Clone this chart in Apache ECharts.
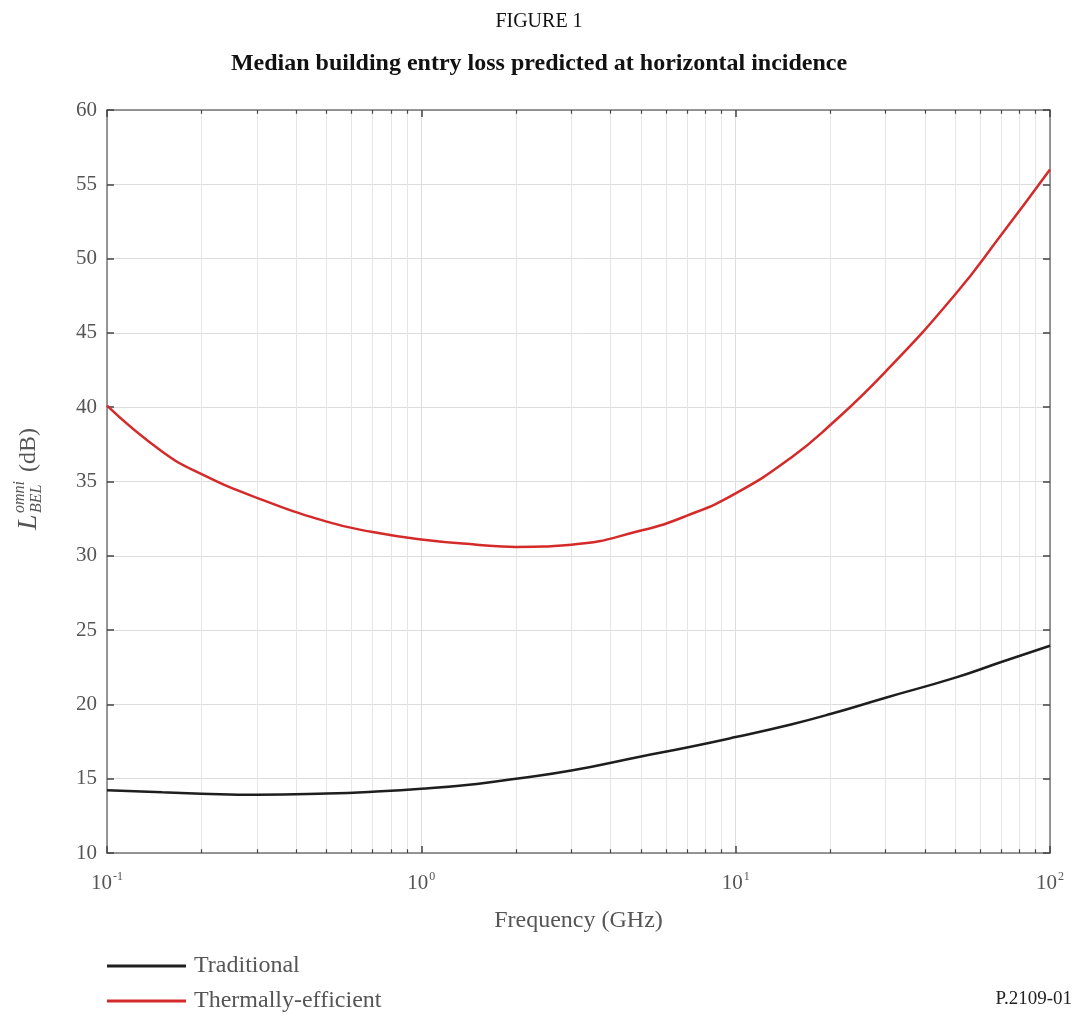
<!DOCTYPE html>
<html>
<head>
<meta charset="utf-8">
<script src="https://cdn.jsdelivr.net/npm/echarts@6/dist/echarts.min.js"></script>
<style>
  html, body { margin: 0; padding: 0; background: #fff; }
  #cn { width: 1078px; height: 1017px; }
</style>
</head>
<body>
<div id="cn"></div>
<script>
'use strict';

// frequency (GHz)
const arrFreq = [0.1, 0.15, 0.2, 0.3, 0.5, 0.7, 1, 1.5, 2, 3, 5, 7, 10, 15, 20, 30, 50, 70, 100];
const arrTraditional = [14.23, 14.08, 13.99, 13.92, 14.0, 14.12, 14.32, 14.65, 15.0, 15.55, 16.5, 17.1, 17.8, 18.65, 19.35, 20.45, 21.8, 22.85, 23.95];
const arrThermal = [40.1, 37.0, 35.5, 33.9, 32.3, 31.6, 31.1, 30.75, 30.6, 30.75, 31.7, 32.7, 34.2, 36.6, 38.8, 42.4, 47.6, 51.6, 56.0];

const arrMinor = [0.2, 0.3, 0.4, 0.5, 0.6, 0.7, 0.8, 0.9, 2, 3, 4, 5, 6, 7, 8, 9, 20, 30, 40, 50, 60, 70, 80, 90];
const seriesNames = ['Traditional', 'Thermally-efficient'];

const FONT = '"Liberation Serif", "DejaVu Serif", serif';
const GRAY = '#555';

const chart = echarts.init(document.getElementById('cn'));

function _zip(a, b) {
    return a.map((v, i) => [v, b[i]]);
}

// minor log grid lines + little tick marks top/bottom
const minorGrid = arrMinor.map(f => [{ coord: [f, 10] }, { coord: [f, 60] }]);
const minorTicks = [];
arrMinor.forEach(f => {
    minorTicks.push([{ coord: [f, 10] }, { coord: [f, 10.25] }]);
    minorTicks.push([{ coord: [f, 60] }, { coord: [f, 59.75] }]);
});

const xLabel = v => {
    const e = Math.round(Math.log10(v));
    return '{b|10}{s|' + e + '}';
};

const boxAxis = {
    axisLine: { show: true, lineStyle: { color: '#777', width: 1.5 } },
    axisTick: { show: true, inside: true, length: 7, lineStyle: { color: '#444', width: 1.5 } }
};

let option = {
    animation: false,
    backgroundColor: '#fff',
    title: [
        {
            text: 'FIGURE 1',
            left: 'center',
            top: 7,
            textStyle: { fontFamily: FONT, fontSize: 20, fontWeight: 'normal', color: '#111' }
        },
        {
            text: 'Median building entry loss predicted at horizontal incidence',
            left: 'center',
            top: 47,
            textStyle: { fontFamily: FONT, fontSize: 24, fontWeight: 'bold', color: '#111' }
        }
    ],
    grid: { left: 107, right: 28, top: 110, bottom: 164, show: false },
    legend: {
        orient: 'vertical',
        left: 107,
        top: 954,
        padding: 0,
        itemWidth: 79,
        itemHeight: 3,
        itemGap: 11,
        icon: 'rect',
        data: seriesNames,
        textStyle: { fontFamily: FONT, fontSize: 24, color: GRAY, padding: [0, 0, 0, 3] }
    },
    xAxis: [
        Object.assign({}, boxAxis, {
            type: 'log',
            logBase: 10,
            min: 0.1,
            max: 100,
            name: 'Frequency (GHz)',
            nameLocation: 'middle',
            nameGap: 56,
            nameTextStyle: { fontFamily: FONT, fontSize: 24, color: GRAY },
            axisLabel: {
                margin: 18,
                formatter: xLabel,
                rich: {
                    b: { fontFamily: FONT, fontSize: 21, color: GRAY },
                    s: { fontFamily: FONT, fontSize: 12, color: GRAY, verticalAlign: 'top', padding: [0, 0, 12, 1] }
                }
            },
            splitLine: { show: true, lineStyle: { color: '#ddd', width: 1 } }
        }),
        Object.assign({}, boxAxis, {
            type: 'log',
            logBase: 10,
            min: 0.1,
            max: 100,
            position: 'top',
            axisLabel: { show: false },
            splitLine: { show: false }
        })
    ],
    yAxis: [
        Object.assign({}, boxAxis, {
            type: 'value',
            min: 10,
            max: 60,
            interval: 5,
            axisLabel: { fontFamily: FONT, fontSize: 21, color: GRAY, margin: 10 },
            splitLine: { show: true, lineStyle: { color: '#ddd', width: 1 } }
        }),
        Object.assign({}, boxAxis, {
            type: 'value',
            min: 10,
            max: 60,
            interval: 5,
            position: 'right',
            axisLabel: { show: false },
            splitLine: { show: false }
        })
    ],
    graphic: [
        {
            type: 'group',
            x: 29,
            y: 474,
            rotation: Math.PI / 2,
            children: [
                { type: 'text', x: -56, y: 0, style: { text: 'L', font: 'italic 28px ' + FONT, fill: GRAY, verticalAlign: 'middle' } },
                { type: 'text', x: -39, y: -9, style: { text: 'omni', font: 'italic 16px ' + FONT, fill: GRAY, verticalAlign: 'middle' } },
                { type: 'text', x: -39, y: 8, style: { text: 'BEL', font: 'italic 16px ' + FONT, fill: GRAY, verticalAlign: 'middle' } },
                { type: 'text', x: 2, y: 0, style: { text: '(dB)', font: '24px ' + FONT, fill: GRAY, verticalAlign: 'middle' } }
            ]
        },
        {
            type: 'text',
            right: 6,
            top: 990,
            style: { text: 'P.2109-01', font: '19px ' + FONT, fill: '#222' }
        }
    ],
    series: [
        {
            name: 'minor-grid',
            type: 'line',
            data: [],
            silent: true,
            markLine: {
                symbol: 'none',
                silent: true,
                label: { show: false },
                lineStyle: { color: '#e6e6e6', width: 1, type: 'solid' },
                data: minorGrid
            }
        },
        {
            name: 'minor-tick',
            type: 'line',
            data: [],
            silent: true,
            markLine: {
                symbol: 'none',
                silent: true,
                label: { show: false },
                lineStyle: { color: '#444', width: 1.2, type: 'solid' },
                data: minorTicks
            }
        },
        {
            name: seriesNames[0],
            type: 'line',
            smooth: true,
            showSymbol: false,
            color: '#1e1e1e',
            lineStyle: { width: 2.5 },
            data: _zip(arrFreq, arrTraditional),
            z: 5
        },
        {
            name: seriesNames[1],
            type: 'line',
            smooth: true,
            showSymbol: false,
            color: '#d42a2a',
            lineStyle: { width: 2.5 },
            data: _zip(arrFreq, arrThermal),
            z: 5
        }
    ]
};

chart.setOption(option);
</script>
</body>
</html>
